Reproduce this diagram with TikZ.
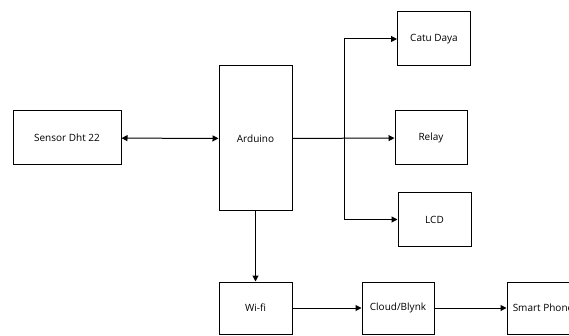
\documentclass[tikz,border=0pt]{standalone}
\usepackage{fontspec}
\setmainfont{Open Sans}
\usetikzlibrary{arrows.meta,positioning}
\tikzset{
  blok/.style={draw,line width=1pt,minimum width=73pt,minimum height=54pt,inner sep=0pt,font=\fontsize{10}{12}\selectfont},
  panah/.style={line width=1pt,-{Triangle[width=6pt,length=6pt]}}
}

\begin{document}
\begin{tikzpicture}[x=1pt,y=-1pt]
\useasboundingbox (0,0) rectangle (569,336);
\node[blok,minimum width=108pt] (sensor) at (67,138) {Sensor Dht 22};
\node[blok,minimum height=145pt] (arduino) at (255.5,138.5) {Arduino};
\node[blok] (catu) at (434,39) {Catu Daya};
\node[blok,minimum width=72pt] (relay) at (431,138) {Relay};
\node[blok] (lcd) at (434.5,219.5) {LCD};
\node[blok,minimum height=52pt] (wifi) at (255.5,308) {Wi-fi};
\node[blok,minimum width=72pt,minimum height=52pt] (cloud) at (398,308) {Cloud/Blynk};
\node[blok,minimum width=72pt,minimum height=52pt] (phone) at (543,308) {Smart Phone};
\coordinate (cabang) at (344,138);
% connectors
\draw[panah,{Triangle[width=6pt,length=6pt]}-{Triangle[width=6pt,length=6pt]}] (sensor) -- (arduino);
\draw[panah] (arduino) -- (relay);
\draw[panah] (cabang) |- (catu.west);
\draw[panah] (cabang) |- (lcd.west);
\draw[panah] (arduino) -- (wifi);
\draw[panah] (wifi) -- (cloud);
\draw[panah] (cloud) -- (phone);
\end{tikzpicture}
\end{document}
